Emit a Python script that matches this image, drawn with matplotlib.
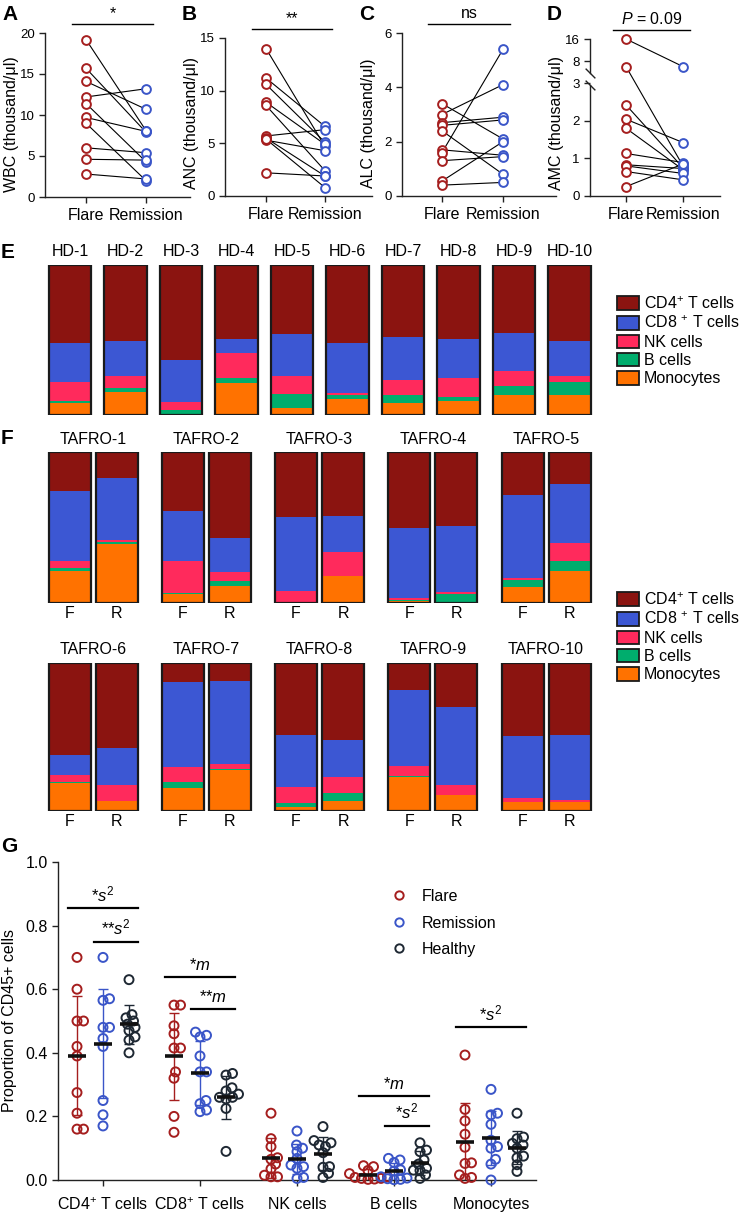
import numpy as np
import matplotlib
matplotlib.use('Agg')
import matplotlib.pyplot as plt
import matplotlib.transforms as mtransforms
from matplotlib.patches import Patch
from matplotlib.lines import Line2D

plt.rcParams['font.family'] = ['Liberation Sans', 'DejaVu Sans']
plt.rcParams['mathtext.fontset'] = 'custom'
plt.rcParams['mathtext.rm'] = 'Liberation Sans'
plt.rcParams['mathtext.it'] = 'Liberation Sans:italic'
plt.rcParams['mathtext.bf'] = 'Liberation Sans:bold'

# ---------------- data ----------------
pair_labels = ['Flare', 'Remission']

wbc_flare = [19.2, 15.7, 14.1, 12.2, 11.4, 9.7, 9.0, 6.0, 4.6, 2.8]
wbc_remission = [8.1, 7.9, 10.7, 13.2, 4.3, 8.0, 2.0, 5.4, 4.5, 2.2]

anc_flare = [14.0, 11.2, 10.6, 8.9, 8.6, 5.7, 5.5, 5.3, 5.4, 2.2]
anc_remission = [4.7, 6.6, 5.1, 4.9, 2.4, 6.3, 1.9, 4.3, 0.8, 1.9]

alc_flare = [3.4, 3.0, 2.7, 2.6, 2.4, 1.7, 1.6, 1.3, 0.55, 0.4]
alc_remission = [2.1, 4.1, 2.9, 2.8, 0.8, 1.5, 5.4, 1.45, 2.0, 0.5]

amc_flare = [16.0, 6.8, 2.42, 2.04, 1.8, 1.13, 0.83, 0.8, 0.65, 0.25]
amc_remission = [6.8, 0.8, 0.75, 1.42, 0.7, 0.89, 0.73, 0.6, 0.43, 0.85]

hd_names = ['HD-1', 'HD-2', 'HD-3', 'HD-4', 'HD-5', 'HD-6', 'HD-7', 'HD-8', 'HD-9', 'HD-10']
hd_cd4 = [0.518, 0.509, 0.636, 0.493, 0.462, 0.522, 0.478, 0.493, 0.456, 0.507]
hd_cd8 = [0.264, 0.229, 0.280, 0.091, 0.278, 0.329, 0.291, 0.262, 0.249, 0.231]
hd_nk = [0.127, 0.084, 0.050, 0.171, 0.118, 0.016, 0.098, 0.122, 0.104, 0.040]
hd_b = [0.013, 0.027, 0.027, 0.033, 0.093, 0.029, 0.056, 0.029, 0.060, 0.091]
hd_mono = [0.078, 0.151, 0.007, 0.211, 0.049, 0.104, 0.078, 0.093, 0.131, 0.131]

tafro_names = ['TAFRO-%d' % i for i in range(1, 11)]
# flare (F) samples
tf_cd4 = [0.258, 0.394, 0.432, 0.500, 0.284, 0.620, 0.125, 0.488, 0.183, 0.493]
tf_cd8 = [0.467, 0.326, 0.487, 0.467, 0.551, 0.135, 0.580, 0.350, 0.510, 0.420]
tf_nk = [0.044, 0.214, 0.081, 0.013, 0.013, 0.047, 0.100, 0.108, 0.070, 0.027]
tf_b = [0.020, 0.007, 0.000, 0.009, 0.044, 0.007, 0.040, 0.027, 0.007, 0.000]
tf_mono = [0.211, 0.059, 0.000, 0.011, 0.108, 0.190, 0.155, 0.027, 0.230, 0.060]
# remission (R) samples
tr_cd4 = [0.172, 0.570, 0.423, 0.487, 0.212, 0.574, 0.120, 0.520, 0.294, 0.486]
tr_cd8 = [0.410, 0.227, 0.240, 0.440, 0.390, 0.250, 0.565, 0.250, 0.530, 0.440]
tr_nk = [0.011, 0.055, 0.156, 0.011, 0.119, 0.108, 0.030, 0.108, 0.068, 0.014]
tr_b = [0.013, 0.033, 0.000, 0.062, 0.066, 0.000, 0.005, 0.054, 0.000, 0.000]
tr_mono = [0.394, 0.115, 0.181, 0.000, 0.212, 0.068, 0.280, 0.068, 0.108, 0.060]

g_categories = ['CD4$^{+}$ T cells', 'CD8$^{+}$ T cells', 'NK cells', 'B cells', 'Monocytes']
g_groups = ['Flare', 'Remission', 'Healthy']
cd4_flare = [0.70, 0.60, 0.50, 0.50, 0.42, 0.39, 0.275, 0.21, 0.16, 0.16]
cd4_remission = [0.70, 0.57, 0.565, 0.48, 0.48, 0.445, 0.42, 0.25, 0.205, 0.17]
cd4_healthy = [0.63, 0.52, 0.51, 0.50, 0.49, 0.48, 0.47, 0.45, 0.44, 0.40]
cd8_flare = [0.55, 0.55, 0.485, 0.46, 0.415, 0.415, 0.34, 0.32, 0.20, 0.15]
cd8_remission = [0.465, 0.455, 0.45, 0.39, 0.34, 0.34, 0.25, 0.24, 0.22, 0.215]
cd8_healthy = [0.335, 0.33, 0.29, 0.28, 0.27, 0.26, 0.26, 0.255, 0.225, 0.09]
nk_flare = [0.21, 0.13, 0.105, 0.07, 0.065, 0.05, 0.035, 0.015, 0.01, 0.01]
nk_remission = [0.154, 0.11, 0.10, 0.089, 0.068, 0.047, 0.042, 0.037, 0.008, 0.005]
nk_healthy = [0.168, 0.124, 0.117, 0.11, 0.105, 0.086, 0.042, 0.04, 0.021, 0.008]
b_flare = [0.045, 0.042, 0.03, 0.02, 0.01, 0.008, 0.005, 0.005, 0.003, 0.002]
b_remission = [0.068, 0.063, 0.055, 0.032, 0.028, 0.01, 0.006, 0.004, 0.002, 0.001]
b_healthy = [0.117, 0.094, 0.089, 0.063, 0.05, 0.037, 0.031, 0.03, 0.016, 0.005]
mono_flare = [0.393, 0.222, 0.186, 0.144, 0.103, 0.052, 0.054, 0.016, 0.008, 0.005]
mono_remission = [0.285, 0.21, 0.205, 0.175, 0.125, 0.105, 0.10, 0.065, 0.05, 0.0]
mono_healthy = [0.21, 0.135, 0.13, 0.115, 0.11, 0.10, 0.075, 0.07, 0.048, 0.027]

# ---------------- styling ----------------
W, H = 740, 1213
RED = '#a51e1e'
BLUE = '#3a55c8'
DARK = '#1e2833'
SPINE = '#222222'
seg_colors = ['#ff7200', '#00ad6d', '#ff2a5c', '#3c57d3', '#8b1410']  # mono, B, NK, CD8, CD4 (bottom->top)
seg_labels = ['CD4$^{+}$ T cells', 'CD8 $^{+}$ T cells', 'NK cells', 'B cells', 'Monocytes']

fig = plt.figure(figsize=(W / 100, H / 100), dpi=100)


def add_ax(x0, y0, x1, y1):
    return fig.add_axes([x0 / W, 1 - y1 / H, (x1 - x0) / W, (y1 - y0) / H])


def style_spines(ax):
    for s in ['top', 'right']:
        ax.spines[s].set_visible(False)
    for s in ['left', 'bottom']:
        ax.spines[s].set_color(SPINE)
        ax.spines[s].set_linewidth(1.0)
    ax.tick_params(length=4, width=1.0, color=SPINE)


def paired_panel(box, flare, rem, ylim, yticks, ylabel, sig, letter, fx, rx, scale=None):
    x0, y0, x1, y1 = box
    ax = add_ax(x0, y0, x1, y1)
    unit = rx - fx
    ax.set_xlim((x0 - fx) / unit, (x1 - fx) / unit)
    if scale is not None:
        ax.set_yscale('function', functions=scale)
    ax.set_ylim(*ylim)
    style_spines(ax)
    for f, r in zip(flare, rem):
        ax.plot([0, 1], [f, r], color='k', lw=0.8, zorder=2)
    ax.scatter(np.zeros(len(flare)), flare, s=40, facecolors='white', edgecolors=RED,
               linewidths=1.4, zorder=3, clip_on=False)
    ax.scatter(np.ones(len(rem)), rem, s=40, facecolors='white', edgecolors=BLUE,
               linewidths=1.4, zorder=3, clip_on=False)
    ax.set_yticks(yticks)
    ax.set_yticklabels([str(t) for t in yticks], fontsize=9.5)
    ax.set_xticks([0, 1])
    ax.set_xticklabels(pair_labels, fontsize=11.5)
    ax.tick_params(axis='x', pad=4)
    ax.set_ylabel(ylabel, fontsize=11.5)
    wpx, hpx = x1 - x0, y1 - y0
    ax.yaxis.set_label_coords(-26 / wpx, 73 / hpx)
    tr = mtransforms.blended_transform_factory(ax.transData, ax.transAxes)
    ax.plot([-0.23, 1.12], [1 + 9 / hpx, 1 + 9 / hpx], color='k', lw=1.0,
            transform=tr, clip_on=False)
    ax.text(0.445, 1 + 12 / hpx, sig, transform=tr, ha='center', va='bottom', fontsize=11.5)
    fig.text((x0 - 43) / W, 1 - 5 / H, letter, fontsize=15, fontweight='bold', va='top', ha='left')
    return ax


# ---------------- A-D ----------------
paired_panel((45, 33, 190, 197), wbc_flare, wbc_remission, (0, 20), [0, 5, 10, 15, 20],
             'WBC (thousand/\u03bcl)', '*', 'A', 86, 146)
paired_panel((225, 38, 372, 196), anc_flare, anc_remission, (0, 15), [0, 5, 10, 15],
             'ANC (thousand/\u03bcl)', '**', 'B', 266, 325)
paired_panel((402, 33, 556, 196), alc_flare, alc_remission, (0, 6), [0, 2, 4, 6],
             'ALC (thousand/\u03bcl)', 'ns', 'C', 442, 503)


def d_fwd(y):
    y = np.asarray(y, float)
    return np.where(y <= 3, y, np.where(y <= 8, 3 + (y - 3) * 0.1154, 3.577 + (y - 8) * 0.0743))


def d_inv(f):
    f = np.asarray(f, float)
    return np.where(f <= 3, f, np.where(f <= 3.577, 3 + (f - 3) / 0.1154, 8 + (f - 3.577) / 0.0743))


axd = paired_panel((590, 39, 720, 196), amc_flare, amc_remission, (0, 16), [0, 1, 2, 3, 8, 16],
                   'AMC (thousand/\u03bcl)', '$P$ = 0.09', 'D', 626, 683, scale=(d_fwd, d_inv))
axd.spines['left'].set_bounds(0, 2.95)
trd = mtransforms.blended_transform_factory(axd.transAxes, axd.transData)
axd.plot([0, 0], [5.4, 16], color=SPINE, lw=1.0, transform=trd, clip_on=False)
axd.plot([0, 0], [2.95, 5.4], linestyle='none', marker=[(-1, 1), (1, -1)], markersize=7,
         mec=SPINE, mew=1.0, transform=trd, clip_on=False)


# ---------------- E ----------------
def stacked(ax, pos, comps, width):
    comps = np.array(comps, float)
    comps = comps / comps.sum(axis=0)
    bottom = np.zeros(comps.shape[1])
    for c, col in zip(comps, seg_colors):
        ax.bar(pos, c, width, bottom=bottom, color=col, linewidth=0)
        bottom += c
    ax.bar(pos, bottom, width, fill=False, edgecolor='#1a1a1a', linewidth=1.6)
    ax.set_ylim(0, 1)
    ax.axis('off')


def legend_block(x, y):
    handles = [Patch(facecolor=c, edgecolor='#1a1a1a', linewidth=1.3, label=l)
               for c, l in zip(seg_colors[::-1], seg_labels)]
    fig.legend(handles=handles, loc='upper left', bbox_to_anchor=(x / W, 1 - y / H),
               frameon=False, fontsize=11.5, handlelength=1.4, handleheight=0.9,
               handletextpad=0.3, labelspacing=0.2, borderpad=0, borderaxespad=0)


axe = add_ax(42.25, 265, 597.25, 415)
pos_e = np.arange(len(hd_names))
stacked(axe, pos_e, [hd_mono, hd_b, hd_nk, hd_cd8, hd_cd4], 0.757)
axe.set_xlim(-0.5, len(hd_names) - 0.5)
for p, name in zip(pos_e, hd_names):
    axe.text(p, 1 + 13 / 150, name, ha='center', va='center', fontsize=11.5,
             transform=mtransforms.blended_transform_factory(axe.transData, axe.transAxes))
fig.text(1 / W, 1 - 252 / H, 'E', fontsize=15, fontweight='bold', va='center', ha='left')
legend_block(617, 295)

# ---------------- F ----------------
gap = 113.25 / 47.0
rows = [(452, 603, 0, 5), (663, 811, 5, 10)]
for (ytop, ybot, i0, i1) in rows:
    ax = add_ax(69.5 - 0.6 * 47, ytop, 569.5 + 0.6 * 47, ybot)
    n = i1 - i0
    gpos = np.arange(n) * gap
    pos = np.concatenate([gpos, gpos + 1])
    comps = [tf_mono[i0:i1] + tr_mono[i0:i1], tf_b[i0:i1] + tr_b[i0:i1],
             tf_nk[i0:i1] + tr_nk[i0:i1], tf_cd8[i0:i1] + tr_cd8[i0:i1],
             tf_cd4[i0:i1] + tr_cd4[i0:i1]]
    stacked(ax, pos, comps, 42 / 47)
    ax.set_xlim(-0.6, gpos[-1] + 1.6)
    hpx = ybot - ytop
    tr = mtransforms.blended_transform_factory(ax.transData, ax.transAxes)
    for g, name in zip(gpos, tafro_names[i0:i1]):
        ax.text(g + 0.5, 1 + 13 / hpx, name, ha='center', va='center', fontsize=11.5, transform=tr)
        ax.text(g, -11 / hpx, 'F', ha='center', va='center', fontsize=11.5, transform=tr)
        ax.text(g + 1, -11 / hpx, 'R', ha='center', va='center', fontsize=11.5, transform=tr)
fig.text(1 / W, 1 - 438 / H, 'F', fontsize=15, fontweight='bold', va='center', ha='left')
legend_block(617, 591)

# ---------------- G ----------------
axg = add_ax(58, 862, 536, 1180)
XU, YU = 97.0, 318.0  # px per unit
axg.set_xlim(-0.464, 4.464)
axg.set_ylim(0, 1)
style_spines(axg)
axg.spines['bottom'].set_linestyle((0, (1, 1)))


def swarm_offsets(values, diam=6.5):
    vals = np.asarray(values, float)
    order = np.argsort(vals)
    placed = []
    offs = np.zeros(len(vals))
    cands = [0.0] + [s * k * 0.5 for k in range(1, 200) for s in (1, -1)]
    for i in order:
        y = vals[i] * YU
        for c in cands:
            if all((c - px) ** 2 + (y - py) ** 2 >= diam ** 2 for px, py in placed):
                break
        placed.append((c, y))
        offs[i] = c / XU
    return offs


g_data = [
    [cd4_flare, cd4_remission, cd4_healthy],
    [cd8_flare, cd8_remission, cd8_healthy],
    [nk_flare, nk_remission, nk_healthy],
    [b_flare, b_remission, b_healthy],
    [mono_flare, mono_remission, mono_healthy],
]
g_colors = [RED, BLUE, DARK]
goff = 26.0 / XU
for ci, groups in enumerate(g_data):
    for gi, vals in enumerate(groups):
        xc = ci + (gi - 1) * goff
        v = np.asarray(vals)
        m, sd = v.mean(), v.std(ddof=1)
        axg.errorbar([xc], [m], yerr=[[min(sd, m)], [sd]], color=g_colors[gi], lw=1.0,
                     capsize=3.5, capthick=1.0, zorder=2, fmt='none')
        axg.scatter(xc + swarm_offsets(v), v, s=42, facecolors='none', edgecolors=g_colors[gi],
                    linewidths=1.4, zorder=3, clip_on=False)
        axg.plot([xc - 0.088, xc + 0.088], [m, m], color='#111111', lw=2.6, zorder=5,
                 solid_capstyle='butt')

axg.set_xticks(np.arange(len(g_categories)))
axg.set_xticklabels(g_categories, fontsize=11.5)
axg.tick_params(axis='x', pad=8)
axg.set_yticks(np.arange(0, 1.01, 0.2))
axg.set_yticklabels(['%.1f' % t for t in np.arange(0, 1.01, 0.2)], fontsize=11.5)
axg.set_ylabel('Proportion of CD45+ cells', fontsize=11.5, labelpad=6)

sig_g = [
    (0, -1, 1, 0.855, '*$s^2$'),
    (0, 0, 1, 0.75, '**$s^2$'),
    (1, -1, 1, 0.639, '*$m$'),
    (1, 0, 1, 0.537, '**$m$'),
    (3, -1, 1, 0.264, '*$m$'),
    (3, 0, 1, 0.171, '*$s^2$'),
    (4, -1, 1, 0.482, '*$s^2$'),
]
for ci, ga, gb, y, txt in sig_g:
    xa = ci + ga * goff - 9 / XU
    xb = ci + gb * goff + 9 / XU
    axg.plot([xa, xb], [y, y], color='k', lw=1.6)
    axg.text((xa + xb) / 2, y + 0.012, txt, ha='center', va='bottom', fontsize=12)

leg_handles = [Line2D([], [], marker='o', ls='', mfc='none', mec=c, mew=1.4, ms=6, label=l)
               for c, l in zip(g_colors, g_groups)]
fig.legend(handles=leg_handles, loc='upper left', bbox_to_anchor=(391 / W, 1 - 889 / H),
           frameon=False, fontsize=11.5, handlelength=1.0, handletextpad=0.95,
           labelspacing=0.72, borderpad=0, borderaxespad=0)
fig.text(1 / W, 1 - 847 / H, 'G', fontsize=15, fontweight='bold', va='center', ha='left')

fig.savefig('out.png', dpi=100)
